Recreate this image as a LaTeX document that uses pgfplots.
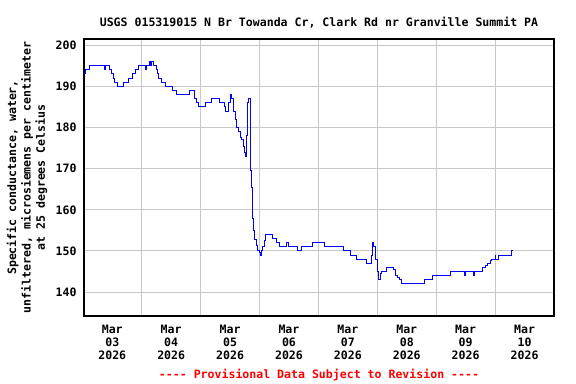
\documentclass[border=0pt]{standalone}
\usepackage{fontspec}
\setmainfont{DejaVu Sans Mono}
\usepackage{pgfplots}
\pgfplotsset{compat=1.18}
\definecolor{gridgray}{RGB}{200,200,200}
\definecolor{provred}{RGB}{255,0,0}
\newcommand{\lf}{\bfseries\fontsize{11.6}{12.7}\selectfont}
\begin{document}
\begin{tikzpicture}
\begin{axis}[
  scale only axis, width=470bp, height=277bp,
  xmin=-0.48, xmax=7.50, ymin=134.2, ymax=201.5,
  xtick={0,1,2,3,4,5,6,7},
  xticklabels={{Mar\\03\\2026},{Mar\\04\\2026},{Mar\\05\\2026},{Mar\\06\\2026},{Mar\\07\\2026},{Mar\\08\\2026},{Mar\\09\\2026},{Mar\\10\\2026}},
  xticklabel style={align=center, font=\lf, yshift=-6bp},
  yticklabel style={font=\lf, xshift=-4bp},
  minor xtick={0.5,1.5,2.5,3.5,4.5,5.5,6.5},
  xminorgrids, ymajorgrids,
  ytick={140,150,160,170,180,190,200},
  major tick length=0pt, minor tick length=0pt,
  grid style={gridgray, line width=1bp},
  minor grid style={gridgray, line width=1bp},
  axis line style={black, line width=1.5bp},
  /pgf/number format/assume math mode=true,
  title={USGS 015319015 N Br Towanda Cr, Clark Rd nr Granville Summit PA},
  title style={font=\lf, yshift=1bp},
]
\addplot[const plot, blue, line width=1bp] coordinates {
(-0.472,193) (-0.447,194) (-0.391,195) (-0.136,194) (-0.119,195) (-0.039,194)
(-0.010,193) (0.017,192) (0.034,191) (0.085,190) (0.187,191) (0.272,192)
(0.340,193) (0.386,194) (0.449,195) (0.567,194) (0.578,195) (0.629,196)
(0.657,195) (0.669,196) (0.697,195) (0.754,194) (0.771,193) (0.793,192)
(0.839,191) (0.907,190) (1.019,189) (1.094,188) (1.308,189) (1.388,187)
(1.422,186) (1.461,185) (1.575,186) (1.689,187) (1.818,186) (1.903,185)
(1.927,184) (1.971,186) (2.000,187) (2.012,188) (2.029,187) (2.056,184)
(2.085,182) (2.113,180) (2.141,179) (2.170,177.5) (2.198,177) (2.226,175.5)
(2.249,174) (2.266,173) (2.283,178) (2.300,186) (2.311,187) (2.339,177)
(2.351,169.6) (2.368,165.5) (2.385,158) (2.402,155) (2.419,152.7) (2.441,151.3)
(2.463,150.2) (2.497,149.6) (2.514,149) (2.535,150) (2.555,151) (2.577,152.5)
(2.599,154) (2.722,153) (2.781,152) (2.832,151) (2.951,152) (2.990,151)
(3.143,150) (3.218,151) (3.398,152) (3.597,151) (3.925,150) (4.038,149)
(4.152,148) (4.310,147) (4.407,149) (4.421,152) (4.434,151) (4.463,148)
(4.497,145) (4.519,143) (4.548,144.5) (4.565,145) (4.650,146) (4.774,145.5)
(4.815,144) (4.842,143.5) (4.871,143) (4.905,142) (5.301,143) (5.437,144)
(5.737,145) (5.980,144) (5.992,145) (6.133,144) (6.145,145) (6.286,146)
(6.332,146.5) (6.371,147) (6.417,147.7) (6.446,148) (6.502,149) (6.514,148)
(6.558,149) (6.782,150) (6.812,150)
};
\end{axis}
\node[rotate=90, align=center, font=\bfseries\fontsize{11.6}{14.5}\selectfont] at (-57bp,138.5bp)
  {Specific conductance, water,\\unfiltered, microsiemens per centimeter\\at 25 degrees Celsius};
\node[anchor=base, text=provred, font=\lf] at (235bp,-62bp) {-{}-{}-{}- Provisional Data Subject to Revision -{}-{}-{}-};
\pgfresetboundingbox
\path[use as bounding box] (-84bp,-68bp) rectangle (492bp,316bp);
\end{tikzpicture}
\end{document}
